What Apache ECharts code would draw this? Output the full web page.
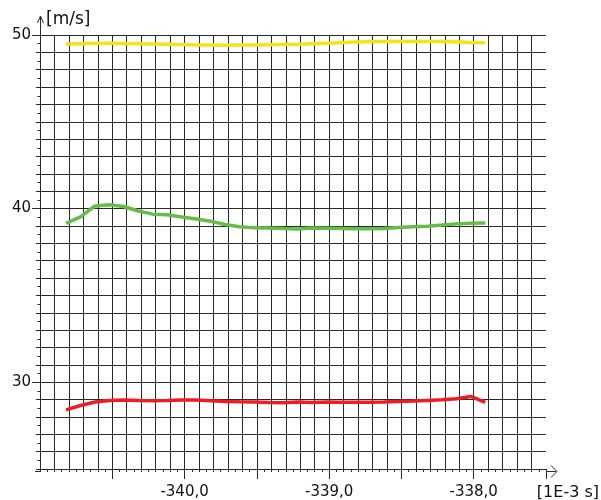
<!DOCTYPE html>
<html>
<head>
<meta charset="utf-8">
<script src="https://cdn.jsdelivr.net/npm/echarts@6/dist/echarts.min.js"></script>
<style>
html,body{margin:0;padding:0;background:#fff;}
#c{width:601px;height:500px;}
</style>
</head>
<body>
<div id="c"></div>
<script>
// ---- data ----
const timeValues = [-340.82,-340.72,-340.62,-340.52,-340.42,-340.32,-340.22,-340.12,-340.02,-339.92,
  -339.82,-339.72,-339.62,-339.52,-339.42,-339.32,-339.22,-339.12,-339.02,-338.92,
  -338.82,-338.72,-338.62,-338.52,-338.42,-338.32,-338.22,-338.12,-338.02,-337.92];
const yellowValues = [49.48,49.50,49.52,49.52,49.51,49.50,49.48,49.47,49.45,49.43,
  49.42,49.41,49.42,49.43,49.44,49.45,49.46,49.50,49.53,49.56,
  49.59,49.61,49.62,49.63,49.63,49.63,49.62,49.60,49.57,49.56];
const greenValues = [39.15,39.52,40.15,40.22,40.12,39.86,39.68,39.64,39.52,39.40,
  39.27,39.08,38.96,38.89,38.88,38.85,38.83,38.88,38.87,38.86,
  38.84,38.84,38.86,38.91,38.95,38.99,39.05,39.12,39.16,39.17];
const redValues = [28.41,28.66,28.86,28.94,28.98,28.94,28.93,28.95,28.98,28.98,
  28.93,28.89,28.87,28.86,28.83,28.82,28.86,28.83,28.86,28.84,
  28.84,28.84,28.86,28.89,28.91,28.95,28.99,29.05,29.18,28.84];
const xLabelValues = [-340, -339, -338];
const xLongTickValues = [-340.5, -340, -339.5, -339, -338.5, -338, -337.5];
const yLabelValues = [30, 40, 50];
const xName = '[1E-3 s]';
const yName = '[m/s]';

const X_MIN = -341, X_MAX = -337.5, Y_MIN = 25, Y_MAX = 50;
const G = {left: 40, right: 55, top: 35, bottom: 29};
const FONT = 'DejaVu Sans';
const LINE = '#2a2a2a';

function pairs(vals) { return timeValues.map((t, i) => [t, vals[i]]); }

const chart = echarts.init(document.getElementById('c'), null, {renderer: 'canvas'});
const W = 601, H = 500;
const x0 = G.left, x1 = W - G.right, y0 = G.top, y1 = H - G.bottom;

chart.setOption({
  animation: false,
  backgroundColor: '#fff',
  grid: {left: G.left, right: G.right, top: G.top, bottom: G.bottom, containLabel: false},
  xAxis: [
    {
      type: 'value', min: X_MIN, max: X_MAX, interval: 0.1, position: 'bottom',
      axisLine: {show: true, onZero: false, lineStyle: {color: LINE, width: 1}},
      axisTick: {show: true, length: 3, lineStyle: {color: LINE}},
      minorTick: {show: true, splitNumber: 2, length: 3, lineStyle: {color: LINE}},
      splitLine: {show: true, showMaxLine: false, lineStyle: {color: LINE, width: 1}},
      axisLabel: {show: false}
    },
    {
      type: 'value', min: X_MIN, max: X_MAX, interval: 0.5, position: 'bottom',
      axisLine: {show: false, onZero: false},
      axisTick: {show: true, length: 10, customValues: xLongTickValues, lineStyle: {color: LINE}},
      splitLine: {show: false},
      axisLabel: {
        show: true, customValues: xLabelValues, margin: 16,
        fontFamily: FONT, fontSize: 15, color: '#111',
        formatter: v => v.toFixed(1).replace('.', ',')
      }
    }
  ],
  yAxis: [
    {
      type: 'value', min: Y_MIN, max: Y_MAX, interval: 1, position: 'left',
      axisLine: {show: true, onZero: false, lineStyle: {color: LINE, width: 1}},
      axisTick: {show: true, length: 4, lineStyle: {color: LINE}},
      minorTick: {show: true, splitNumber: 2, length: 2.5, lineStyle: {color: LINE}},
      splitLine: {show: true, lineStyle: {color: LINE, width: 1}},
      axisLabel: {show: false}
    },
    {
      type: 'value', min: Y_MIN, max: Y_MAX, interval: 5, position: 'left',
      axisLine: {show: false, onZero: false},
      axisTick: {show: true, length: 8, customValues: yLabelValues, lineStyle: {color: LINE}},
      splitLine: {show: false},
      axisLabel: {show: true, customValues: yLabelValues, margin: 9, fontFamily: FONT, fontSize: 15, color: '#111'}
    }
  ],
  series: [
    {type: 'line', data: pairs(yellowValues), showSymbol: false, symbol: 'none', lineStyle: {color: '#f2e31a', width: 3.5}, z: 5},
    {type: 'line', data: pairs(greenValues), showSymbol: false, symbol: 'none', lineStyle: {color: '#66bd45', width: 3.5}, z: 5},
    {type: 'line', data: pairs(redValues), showSymbol: false, symbol: 'none', lineStyle: {color: '#ee1d24', width: 3.5}, z: 5}
  ],
  graphic: [
    // y-axis extension and arrow
    {type: 'polyline', shape: {points: [[x0 + 0.5, y0], [x0 + 0.5, 17]]}, style: {stroke: LINE, lineWidth: 1, fill: null}},
    {type: 'polyline', shape: {points: [[x0 - 2.5, 23], [x0 + 0.5, 16], [x0 + 3.5, 23]]}, style: {stroke: LINE, lineWidth: 1, fill: null}},
    // x-axis extension and arrow
    {type: 'polyline', shape: {points: [[x0 - 5, y1 + 0.5], [x0, y1 + 0.5]]}, style: {stroke: LINE, lineWidth: 1, fill: null}},
    {type: 'polyline', shape: {points: [[x1, y1 + 0.5], [x1 + 10, y1 + 0.5]]}, style: {stroke: LINE, lineWidth: 1, fill: null}},
    {type: 'polyline', shape: {points: [[x1 + 5, y1 - 5.5], [x1 + 11, y1 + 0.5], [x1 + 5, y1 + 6.5]]}, style: {stroke: LINE, lineWidth: 1, fill: null}},
    // axis names
    {type: 'text', left: 46, top: 11, style: {text: yName, font: '17px "DejaVu Sans"', fill: '#111'}},
    {type: 'text', right: 2, top: 485, style: {text: xName, font: '16px "DejaVu Sans"', fill: '#111'}}
  ]
});
</script>
</body>
</html>
